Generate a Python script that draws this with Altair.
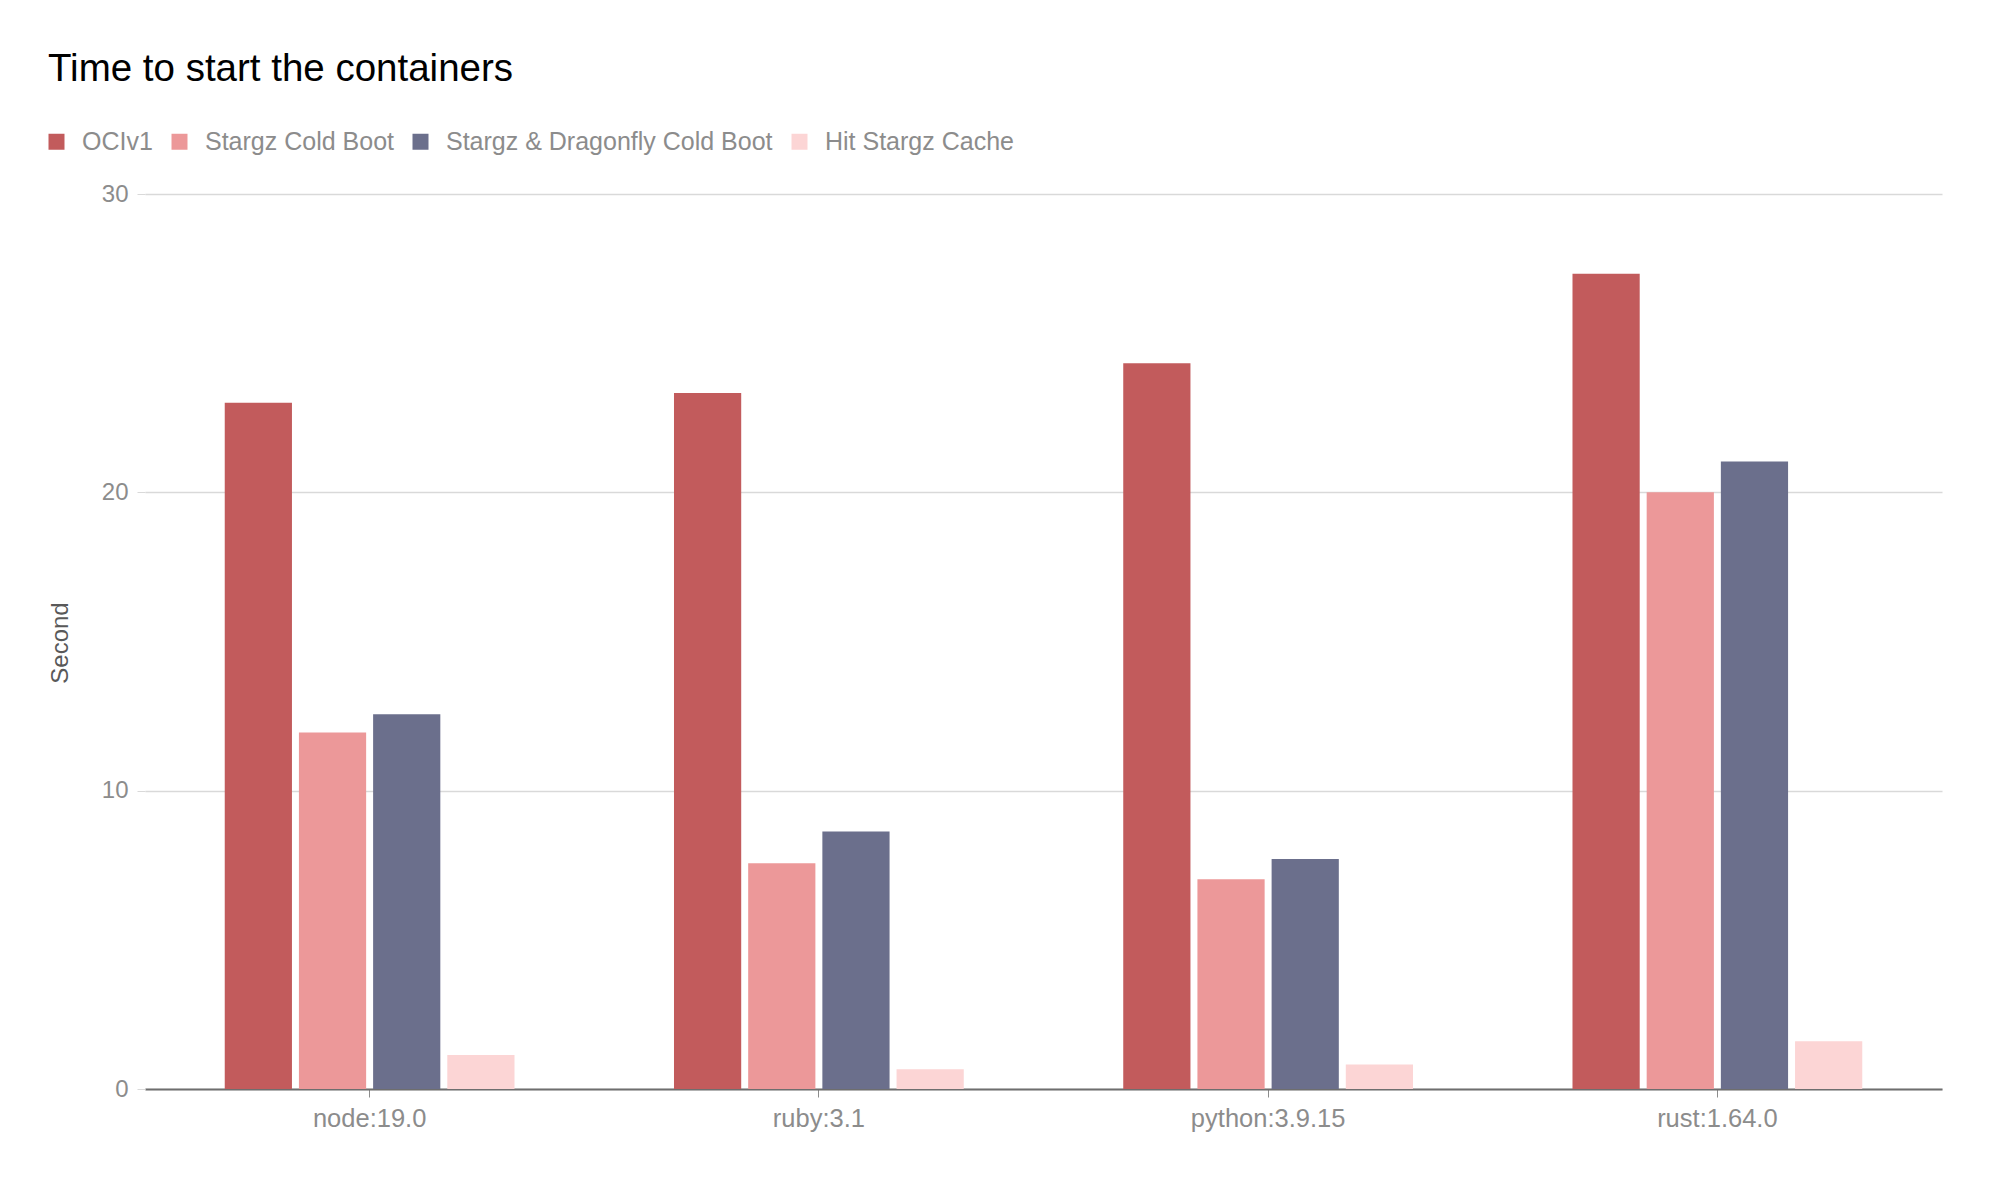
import altair as alt
import pandas as pd

images = ["node:19.0", "ruby:3.1", "python:3.9.15", "rust:1.64.0"]
series = ["OCIv1", "Stargz Cold Boot", "Stargz & Dragonfly Cold Boot", "Hit Stargz Cache"]
ociv1 = [23.0, 23.33, 24.33, 27.33]
stargz_cold = [11.95, 7.57, 7.03, 20.0]
stargz_dragonfly = [12.56, 8.63, 7.71, 21.03]
hit_cache = [1.14, 0.66, 0.82, 1.60]
colors = ["#c25b5c", "#ec9899", "#6b6f8c", "#fcd5d5"]
y_ticks = [0, 10, 20, 30]

rows = []
for name, vals in zip(series, [ociv1, stargz_cold, stargz_dragonfly, hit_cache]):
    for img, v in zip(images, vals):
        rows.append({"image": img, "series": name, "seconds": v})
df = pd.DataFrame(rows)

FONT = "Liberation Sans"

chart = alt.Chart(df).mark_bar().encode(
    x=alt.X("image:N", sort=images,
            scale=alt.Scale(paddingInner=0.355, paddingOuter=0.1775),
            axis=alt.Axis(title=None, labelAngle=0, labelFontSize=25.5, labelColor="#8c8c8c",
                          labelFont=FONT, labelPadding=9, tickSize=8, tickColor="#8c8c8c",
                          domainColor="#6e6e6e", domainWidth=2, grid=False)),
    xOffset=alt.XOffset("series:N", sort=series,
                        scale=alt.Scale(paddingInner=0.094, paddingOuter=0)),
    y=alt.Y("seconds:Q", scale=alt.Scale(domain=[0, 30], nice=False),
            axis=alt.Axis(title="Second", values=y_ticks, labelFontSize=24, labelColor="#8c8c8c",
                          labelFont=FONT, labelPadding=9, tickSize=8, tickColor="#d9d9d9",
                          domain=False, gridColor="#d9d9d9", gridWidth=1.5,
                          titleFont=FONT, titleFontSize=24, titleColor="#595959",
                          titleFontWeight="normal", titleX=-85, titleY=448.5,
                          titleBaseline="middle", titleAngle=270)),
    color=alt.Color("series:N", sort=series,
                    scale=alt.Scale(domain=series, range=colors),
                    legend=alt.Legend(title=None, orient="none", legendX=-101, legendY=-65,
                                      direction="horizontal", columns=4,
                                      symbolType="square", symbolSize=256, symbolStrokeWidth=0,
                                      labelFont=FONT, labelFontSize=25, labelColor="#8c8c8c",
                                      labelLimit=0, labelOffset=13, columnPadding=14)),
).properties(
    width=1797,
    height=895,
    title=alt.TitleParams("Time to start the containers", anchor="start", frame="group",
                          dx=-97, fontSize=38.5, font=FONT, fontWeight="normal",
                          color="#000000", offset=40),
    padding={"left": 137, "top": 186, "right": 30, "bottom": 60},
    autosize=alt.AutoSizeParams(type="none"),
).configure_view(stroke=None)

chart.save("out.html", embed_options={"renderer": "svg", "actions": False})
